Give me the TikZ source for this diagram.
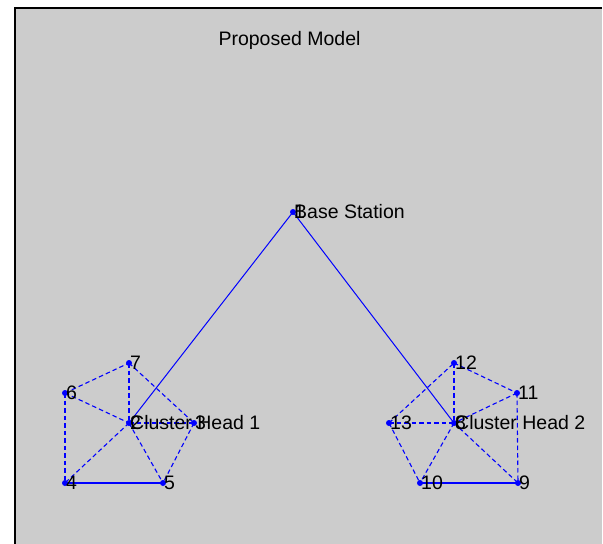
\documentclass[tikz,border=0pt]{standalone}
\usepackage{fontspec}
\setmainfont{Liberation Sans}
\definecolor{bggray}{RGB}{204,204,204}
\definecolor{mblue}{RGB}{0,0,255}
\begin{document}
\begin{tikzpicture}[x=1pt,y=-1pt,
  dot/.style={circle,fill=mblue,inner sep=0pt,minimum size=6pt},
  lbl/.style={anchor=west,inner sep=0pt,xshift=1pt,text=black,font=\fontsize{19.5}{21}\selectfont},
  solidlink/.style={color=mblue,line width=1pt},
  boldlink/.style={color=mblue,line width=1.8pt},
  dashlink/.style={color=mblue,line width=1.1pt,dash pattern=on 4.5pt off 3pt}]
\useasboundingbox (0,0) rectangle (603,544);
\fill[bggray] (16,9) rectangle (602,544);
\fill[black] (14,7) rectangle (602,9);
\fill[black] (14,7) rectangle (16,544);
\node[font=\fontsize{19.5}{21}\selectfont] (title) at (289.5,40) {Proposed Model};
% nodes
\node[dot] (n1) at (293,212) {};
\node[dot] (n2) at (129,423) {};
\node[dot] (n3) at (194,423) {};
\node[dot] (n4) at (65,483) {};
\node[dot] (n5) at (163,483) {};
\node[dot] (n6) at (65,393) {};
\node[dot] (n7) at (129,363) {};
\node[dot] (n8) at (454,423) {};
\node[dot] (n9) at (518,483) {};
\node[dot] (n10) at (420,483) {};
\node[dot] (n11) at (517,393) {};
\node[dot] (n12) at (454,363) {};
\node[dot] (n13) at (389,423) {};
% links
\draw[solidlink] (n1.center) -- (n2.center);
\draw[solidlink] (n1.center) -- (n8.center);
\draw[boldlink] (n4.center) -- (n5.center);
\draw[boldlink] (n10.center) -- (n9.center);
\draw[dashlink] (n6.center) -- (n7.center);
\draw[dashlink] (n6.center) -- (n2.center);
\draw[dashlink] (n6.center) -- (n4.center);
\draw[dashlink] (n7.center) -- (n2.center);
\draw[dashlink] (n7.center) -- (n3.center);
\draw[dashlink] (n2.center) -- (n4.center);
\draw[dashlink] (n2.center) -- (n5.center);
\draw[dashlink] (n2.center) -- (n3.center);
\draw[dashlink] (n3.center) -- (n5.center);
\draw[dashlink] (n13.center) -- (n12.center);
\draw[dashlink] (n13.center) -- (n8.center);
\draw[dashlink] (n13.center) -- (n10.center);
\draw[dashlink] (n12.center) -- (n8.center);
\draw[dashlink] (n12.center) -- (n11.center);
\draw[dashlink] (n11.center) -- (n8.center);
\draw[dashlink] (n11.center) -- (n9.center);
\draw[dashlink] (n8.center) -- (n10.center);
\draw[dashlink] (n8.center) -- (n9.center);
% labels
\node[lbl] (t1) at (n1.center) {1};
\node[lbl] (bs) at (n1.center) {Base Station};
\node[lbl] (t2) at (n2.center) {2};
\node[lbl] (ch1) at (n2.center) {Cluster Head 1};
\node[lbl] (t3) at (n3.center) {3};
\node[lbl] (t4) at (n4.center) {4};
\node[lbl] (t5) at (n5.center) {5};
\node[lbl] (t6) at (n6.center) {6};
\node[lbl] (t7) at (n7.center) {7};
\node[lbl] (t8) at (n8.center) {8};
\node[lbl] (ch2) at (n8.center) {Cluster Head 2};
\node[lbl] (t9) at (n9.center) {9};
\node[lbl] (t10) at (n10.center) {10};
\node[lbl] (t11) at (n11.center) {11};
\node[lbl] (t12) at (n12.center) {12};
\node[lbl] (t13) at (n13.center) {13};
\end{tikzpicture}
\end{document}
